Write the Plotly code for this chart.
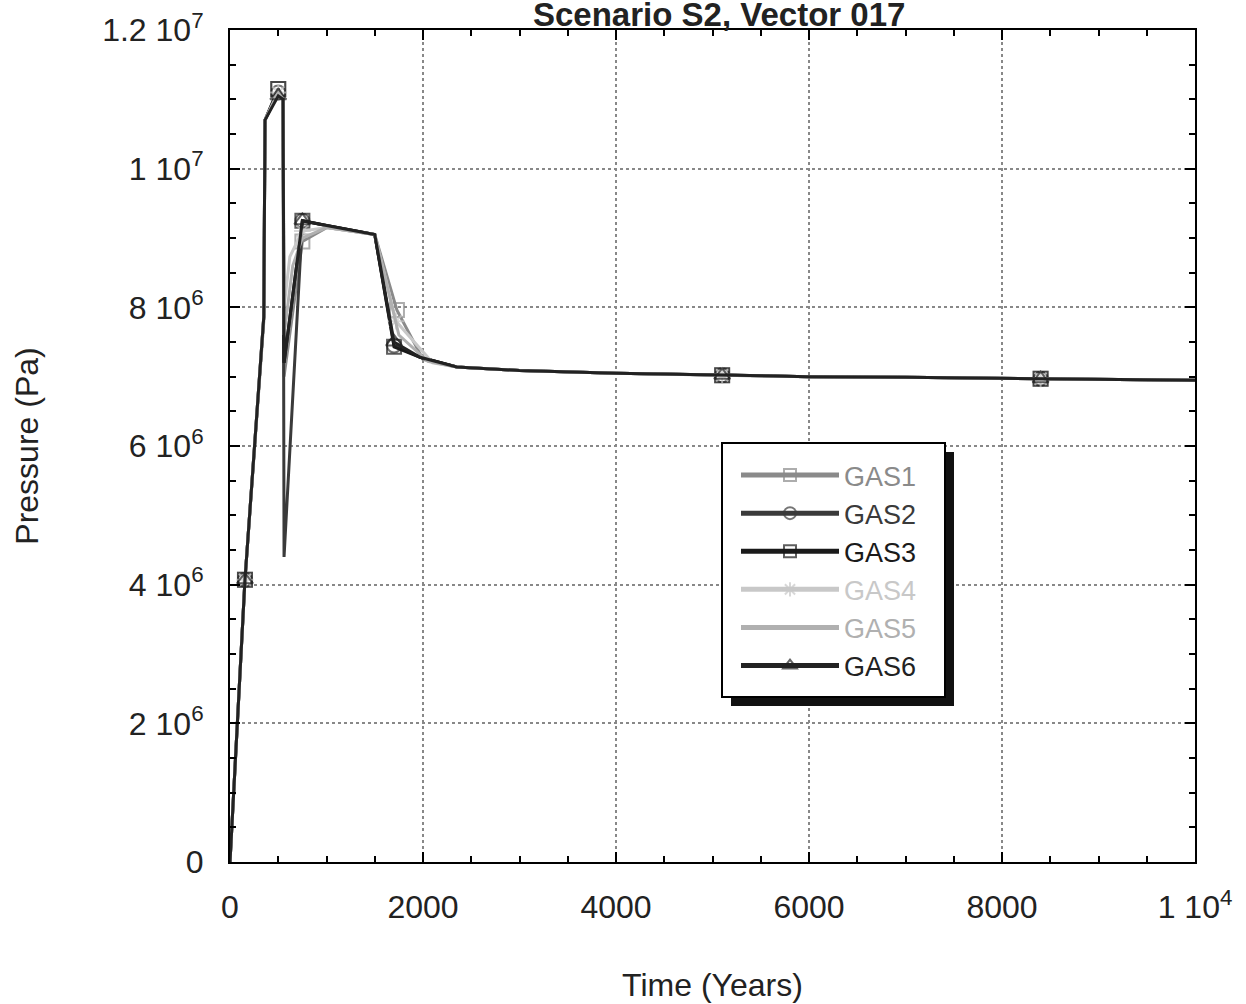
import plotly.graph_objects as go

# ---- data ----
t_main = [0, 155, 350, 363, 500, 550, 560, 750, 1000, 1500, 1700, 1970, 2350, 3000, 4000, 5100, 6000, 7000, 8400, 10000]

gas1_t = [0, 155, 350, 363, 500, 550, 560, 750, 1000, 1500, 1730, 2000, 2350, 3000, 4000, 5100, 6000, 7000, 8400, 10000]
gas1_p = [0, 4.07e6, 7.8e6, 1.07e7, 1.115e7, 1.10e7, 7.0e6, 8.95e6, 9.15e6, 9.05e6, 7.96e6, 7.25e6, 7.14e6, 7.09e6, 7.05e6, 7.02e6, 7.0e6, 6.99e6, 6.97e6, 6.95e6]

gas2_p = [0, 4.07e6, 7.86e6, 1.07e7, 1.11e7, 1.10e7, 4.4e6, 9.25e6, 9.18e6, 9.05e6, 7.45e6, 7.28e6, 7.14e6, 7.09e6, 7.05e6, 7.02e6, 7.0e6, 6.99e6, 6.97e6, 6.95e6]
gas3_p = [0, 4.07e6, 7.86e6, 1.07e7, 1.115e7, 1.10e7, 7.2e6, 9.25e6, 9.18e6, 9.05e6, 7.43e6, 7.28e6, 7.14e6, 7.09e6, 7.05e6, 7.02e6, 7.0e6, 6.99e6, 6.97e6, 6.95e6]

gas4_t = [0, 155, 350, 363, 500, 550, 560, 620, 750, 1000, 1500, 1720, 2100, 2350, 3000, 4000, 5100, 6000, 7000, 8400, 10000]
gas4_p = [0, 4.07e6, 7.86e6, 1.07e7, 1.11e7, 1.10e7, 8.0e6, 8.73e6, 9.1e6, 9.15e6, 9.05e6, 7.8e6, 7.2e6, 7.14e6, 7.09e6, 7.05e6, 7.02e6, 7.0e6, 6.99e6, 6.97e6, 6.95e6]

gas5_t = [0, 155, 350, 363, 500, 550, 560, 650, 750, 1000, 1500, 1750, 2050, 2350, 3000, 4000, 5100, 6000, 7000, 8400, 10000]
gas5_p = [0, 4.07e6, 7.86e6, 1.07e7, 1.11e7, 1.10e7, 7.6e6, 8.6e6, 9.0e6, 9.15e6, 9.05e6, 7.6e6, 7.22e6, 7.14e6, 7.09e6, 7.05e6, 7.02e6, 7.0e6, 6.99e6, 6.97e6, 6.95e6]

gas6_p = [0, 4.07e6, 7.86e6, 1.07e7, 1.105e7, 1.10e7, 7.2e6, 9.25e6, 9.18e6, 9.05e6, 7.5e6, 7.28e6, 7.14e6, 7.09e6, 7.05e6, 7.02e6, 7.0e6, 6.99e6, 6.97e6, 6.95e6]

mark_times = [155, 500, 750, 1700, 1730, 1720, 5100, 8400]

series = [
    ("GAS1", gas1_t, gas1_p, "#8a8a8a", "square-open"),
    ("GAS2", t_main, gas2_p, "#3a3a3a", "circle-open"),
    ("GAS3", t_main, gas3_p, "#1a1a1a", "square-open"),
    ("GAS4", gas4_t, gas4_p, "#c8c8c8", "asterisk-open"),
    ("GAS5", gas5_t, gas5_p, "#b0b0b0", None),
    ("GAS6", t_main, gas6_p, "#222222", "triangle-up-open"),
]

y_tickvals = [0, 2e6, 4e6, 6e6, 8e6, 1e7, 1.2e7]
y_ticktext = ["0", "2 10<sup>6</sup>", "4 10<sup>6</sup>", "6 10<sup>6</sup>", "8 10<sup>6</sup>",
              "1 10<sup>7</sup>", "1.2 10<sup>7</sup>"]
x_tickvals = [0, 2000, 4000, 6000, 8000, 10000]
x_ticktext = ["0", "2000", "4000", "6000", "8000", "1 10<sup>4</sup>"]

FONT = "Liberation Sans, Arial, Helvetica"

fig = go.Figure()
for name, tt, pp, col, sym in series:
    label = f"<span style='color:{col}'>{name}</span>"
    if sym is None:
        fig.add_trace(go.Scatter(x=tt, y=pp, mode="lines",
                                 line=dict(color=col, width=3), name=label))
    else:
        sizes = [14 if v in mark_times else 0 for v in tt]
        fig.add_trace(go.Scatter(x=tt, y=pp, mode="lines+markers",
                                 line=dict(color=col, width=3),
                                 marker=dict(symbol=sym, size=sizes, color=col,
                                             line=dict(width=2, color=col)),
                                 name=label))

# page-pixel -> paper helpers (plot area: x 230..1195, y 30..862 in page pixels)
def px(x):
    return (x - 230) / 965.0


def py(y):
    return (862 - y) / 832.0


# legend drop shadow and box
fig.add_shape(type="rect", xref="paper", yref="paper",
              x0=px(731), x1=px(954), y0=py(706), y1=py(452),
              fillcolor="#111111", line=dict(width=0), layer="above")
fig.add_shape(type="rect", xref="paper", yref="paper",
              x0=px(722), x1=px(945), y0=py(697), y1=py(443),
              fillcolor="white", line=dict(width=2, color="black"), layer="above")

fig.add_annotation(text="<b>Scenario S2, Vector 017</b>", xref="paper", yref="paper",
                   x=px(719), y=1, xanchor="center", yanchor="bottom", yshift=-5,
                   showarrow=False, font=dict(family=FONT, size=33, color="#222"))

axis_common = dict(
    showline=True, linecolor="black", linewidth=2, mirror="allticks",
    ticks="inside", ticklen=10, tickcolor="black", tickwidth=1.5,
    showgrid=True, gridcolor="#888888", griddash="dot", gridwidth=1.5,
    zeroline=False, tickfont=dict(family=FONT, size=32, color="#222"),
    ticklabeloverflow="allow",
)

fig.update_xaxes(range=[0, 10000], tickvals=x_tickvals, ticktext=x_ticktext,
                 minor=dict(ticks="inside", ticklen=6, dtick=500, tickcolor="black", showgrid=False),
                 title=dict(text="Time (Years)", font=dict(family=FONT, size=32, color="#222"),
                            standoff=49),
                 ticklabelstandoff=16, **axis_common)
fig.update_yaxes(range=[0, 1.2e7], tickvals=y_tickvals, ticktext=y_ticktext,
                 minor=dict(ticks="inside", ticklen=6, dtick=5e5, tickcolor="black", showgrid=False),
                 title=dict(text="Pressure (Pa)", font=dict(family=FONT, size=32, color="#222"),
                            standoff=54),
                 ticklabelstandoff=18, **axis_common)

fig.update_layout(
    width=1246, height=1004,
    margin=dict(l=230, r=51, t=30, b=142, autoexpand=False),
    paper_bgcolor="white", plot_bgcolor="white",
    legend=dict(x=px(736), y=py(451), xanchor="left", yanchor="top",
                bgcolor="rgba(0,0,0,0)", borderwidth=0,
                font=dict(family=FONT, size=27, color="#222"),
                itemsizing="constant", itemwidth=98, tracegroupgap=0),
    showlegend=True,
)

fig.write_html("out.html", config={"displayModeBar": False},
               post_script="document.body.style.margin='0px';document.body.style.overflow='hidden';")
